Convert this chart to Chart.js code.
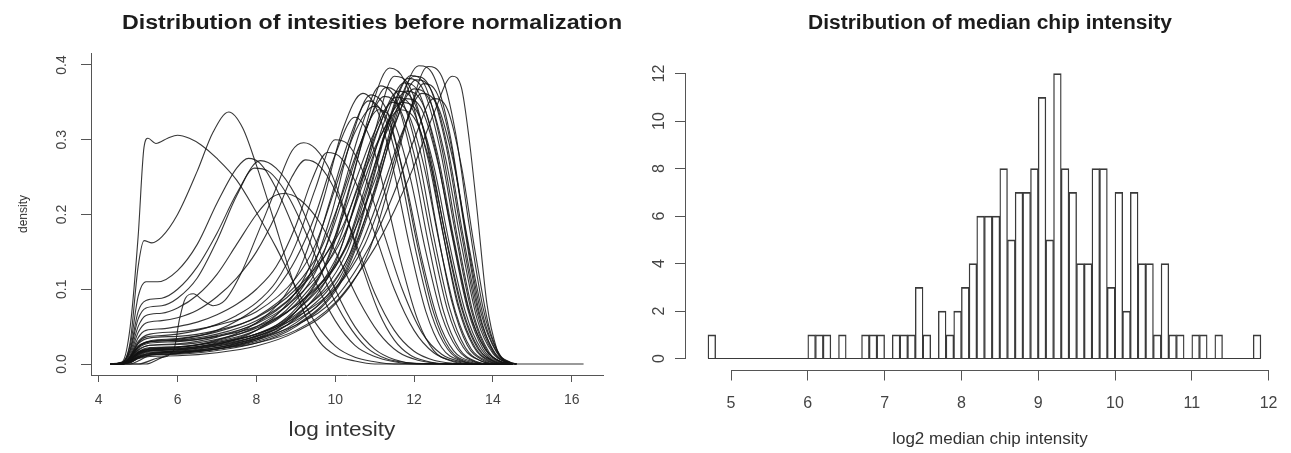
<!DOCTYPE html>
<html>
<head>
<meta charset="utf-8">
<script src="https://cdn.jsdelivr.net/npm/chart.js@4.4.1/dist/chart.umd.min.js"></script>
<style>
  html, body { margin: 0; padding: 0; background: #fff; }
  #wrap { position: relative; width: 1291px; height: 453px; overflow: hidden; font-family: "Liberation Sans", Arial, sans-serif; }
  canvas { position: absolute; top: 0; }
  #densityChart { left: 0; }
  #histChart { left: 640px; }
  .lbl { position: absolute; white-space: nowrap; line-height: 1; color: #333; }
</style>
</head>
<body>
<div id="wrap">
  <canvas id="densityChart" width="640" height="453"></canvas>
  <canvas id="histChart" width="651" height="453"></canvas>
  <div class="lbl" style="left:372px;top:21.6px;font-weight:bold;font-size:20px;color:#1c1c1c;transform:translate(-50%,-50%) scaleX(1.16)">Distribution of intesities before normalization</div>
  <div class="lbl" style="left:990px;top:21.6px;font-weight:bold;font-size:20px;color:#1c1c1c;transform:translate(-50%,-50%) scaleX(1.05)">Distribution of median chip intensity</div>
  <div class="lbl" style="left:23px;top:214px;font-size:12px;transform:translate(-50%,-50%) rotate(-90deg)">density</div>
  <div class="lbl" style="left:342px;top:429px;font-size:20px;transform:translate(-50%,-50%) scaleX(1.13)">log intesity</div>
  <div class="lbl" style="left:990px;top:438px;font-size:17px;transform:translate(-50%,-50%)">log2 median chip intensity</div>
</div>
<script>
// ---- left panel: density of log intensity per chip ----
const densityTicksX = [4, 6, 8, 10, 12, 14, 16];
const densityTicksY = [0, 0.1, 0.2, 0.3, 0.4];

// chips with an early mode (low intensity arrays)
const earlyChips = [
  [[4.3,0],[4.6,0.003],[4.8,0.05],[5.0,0.17],[5.15,0.29],[5.25,0.302],[5.45,0.295],[5.75,0.302],[6.0,0.306],[6.3,0.302],[6.6,0.293],[7.0,0.275],[7.5,0.246],[8.0,0.203],[8.5,0.156],[9.0,0.103],[9.5,0.055],[10.0,0.024],[10.5,0.009],[11.0,0.003],[11.5,0],[14.5,0]],
  [[4.3,0],[4.6,0.002],[4.8,0.03],[5.0,0.13],[5.15,0.165],[5.35,0.162],[5.6,0.17],[6.0,0.2],[6.5,0.258],[6.9,0.31],[7.3,0.337],[7.65,0.316],[8.0,0.266],[8.4,0.2],[8.8,0.132],[9.2,0.07],[9.6,0.03],[10.0,0.012],[10.5,0.004],[11.0,0],[14.5,0]],
  [[4.3,0],[4.6,0.002],[4.8,0.025],[5.0,0.09],[5.2,0.11],[5.5,0.11],[6.0,0.125],[6.5,0.16],[7.0,0.215],[7.5,0.262],[7.8,0.275],[8.1,0.268],[8.5,0.235],[9.0,0.175],[9.5,0.11],[10.0,0.058],[10.5,0.025],[11.0,0.01],[11.5,0.003],[12.0,0],[14.5,0]],
  [[4.3,0],[4.6,0.002],[4.8,0.02],[5.0,0.07],[5.2,0.085],[5.6,0.088],[6.0,0.1],[6.5,0.13],[7.0,0.175],[7.5,0.228],[8.1,0.272],[8.5,0.262],[9.0,0.225],[9.5,0.165],[10.0,0.1],[10.5,0.05],[11.0,0.02],[11.5,0.006],[12.0,0.001],[14.5,0]],
  [[4.3,0],[4.6,0.002],[4.8,0.018],[5.0,0.06],[5.2,0.075],[5.6,0.078],[6.0,0.088],[6.5,0.115],[7.0,0.165],[7.5,0.225],[7.95,0.262],[8.3,0.258],[8.8,0.225],[9.3,0.17],[9.8,0.105],[10.3,0.055],[10.8,0.022],[11.3,0.007],[11.8,0.002],[12.3,0],[14.5,0]],
  [[4.3,0],[4.6,0.001],[4.8,0.015],[5.0,0.05],[5.2,0.065],[5.6,0.068],[6.0,0.075],[6.5,0.092],[7.0,0.12],[7.5,0.16],[8.0,0.2],[8.4,0.223],[8.7,0.228],[9.1,0.22],[9.6,0.19],[10.1,0.14],[10.6,0.085],[11.1,0.042],[11.6,0.016],[12.1,0.005],[12.6,0.001],[13.0,0],[14.5,0]],
  [[4.3,0],[5.0,0],[5.5,0.008],[5.9,0.018],[6.05,0.06],[6.2,0.088],[6.4,0.094],[6.65,0.085],[6.9,0.078],[7.2,0.085],[7.6,0.12],[8.0,0.17],[8.5,0.235],[8.9,0.285],[9.2,0.296],[9.5,0.288],[9.9,0.255],[10.3,0.195],[10.7,0.128],[11.1,0.07],[11.5,0.032],[11.9,0.012],[12.3,0.004],[12.8,0],[14.5,0]],
  [[4.3,0],[4.6,0.001],[4.8,0.012],[5.0,0.042],[5.2,0.055],[5.6,0.058],[6.0,0.062],[6.5,0.072],[7.0,0.09],[7.5,0.115],[8.0,0.15],[8.5,0.2],[8.9,0.25],[9.25,0.273],[9.6,0.265],[10.0,0.232],[10.5,0.165],[11.0,0.095],[11.5,0.045],[12.0,0.017],[12.5,0.005],[13.0,0.001],[13.5,0],[14.5,0]],
  [[4.3,0],[4.6,0.001],[4.8,0.01],[5.0,0.035],[5.2,0.045],[5.6,0.047],[6.0,0.05],[6.5,0.056],[7.0,0.066],[7.5,0.08],[8.0,0.1],[8.5,0.13],[9.0,0.185],[9.4,0.245],[9.8,0.283],[10.1,0.278],[10.5,0.245],[11.0,0.175],[11.5,0.1],[12.0,0.045],[12.5,0.015],[13.0,0.004],[13.5,0],[14.5,0]],
  [[4.3,0],[4.6,0],[4.8,0.008],[5.0,0.028],[5.2,0.036],[5.6,0.038],[6.0,0.04],[6.5,0.045],[7.0,0.053],[7.5,0.065],[8.0,0.082],[8.5,0.11],[9.0,0.16],[9.5,0.235],[10.0,0.3],[10.3,0.295],[10.7,0.258],[11.2,0.18],[11.7,0.1],[12.2,0.042],[12.7,0.013],[13.2,0.003],[13.7,0],[14.5,0]]
];

// chips with the usual late mode (11-13)
const lateChips = [
  [[4.3,0],[4.6,0.001],[4.8,0.008],[5.0,0.022],[5.3,0.03],[6.0,0.033],[7.0,0.045],[8.0,0.075],[8.5,0.1],[9.0,0.14],[9.5,0.2],[10.0,0.28],[10.5,0.33],[10.9,0.3],[11.3,0.22],[11.7,0.13],[12.1,0.058],[12.5,0.018],[13.0,0.003],[13.5,0],[14.5,0]],
  [[4.3,0],[4.6,0],[4.8,0.005],[5.0,0.015],[5.3,0.02],[6.0,0.022],[7.0,0.032],[8.0,0.055],[8.7,0.09],[9.2,0.14],[9.7,0.22],[10.2,0.315],[10.7,0.362],[11.1,0.335],[11.5,0.255],[11.9,0.155],[12.3,0.07],[12.7,0.022],[13.2,0.004],[13.7,0],[14.5,0]],
  [[4.3,0],[4.8,0],[5.0,0.004],[5.3,0.012],[5.6,0.016],[6.0,0.018],[7.0,0.026],[8.0,0.045],[8.85,0.085],[9.35,0.13],[9.85,0.215],[10.35,0.3],[10.85,0.352],[11.25,0.33],[11.65,0.255],[12.05,0.15],[12.45,0.065],[12.85,0.02],[13.3,0.003],[13.8,0],[14.5,0]],
  [[4.3,0],[4.6,0.001],[4.8,0.01],[5.0,0.03],[5.3,0.04],[6.0,0.043],[7.0,0.052],[8.0,0.07],[9.0,0.115],[9.5,0.16],[10.0,0.235],[10.5,0.31],[11.0,0.345],[11.4,0.318],[11.8,0.24],[12.2,0.14],[12.6,0.06],[13.0,0.018],[13.5,0.003],[14.0,0],[14.5,0]],
  [[4.3,0],[4.6,0.001],[4.8,0.006],[5.0,0.014],[5.3,0.018],[6.0,0.02],[7.0,0.028],[8.0,0.045],[9.0,0.085],[9.65,0.14],[10.15,0.225],[10.65,0.315],[11.15,0.372],[11.55,0.352],[11.95,0.275],[12.35,0.165],[12.75,0.07],[13.15,0.02],[13.6,0.003],[14.0,0],[14.5,0]],
  [[4.3,0],[4.6,0.001],[4.8,0.007],[5.0,0.019],[5.3,0.025],[6.0,0.027],[7.0,0.036],[8.0,0.055],[9.0,0.095],[9.75,0.155],[10.25,0.23],[10.75,0.31],[11.25,0.358],[11.65,0.34],[12.05,0.27],[12.45,0.165],[12.85,0.072],[13.25,0.022],[13.7,0.004],[14.1,0],[14.5,0]],
  [[4.3,0],[4.8,0.002],[5.0,0.008],[5.3,0.012],[6.0,0.014],[7.0,0.02],[8.0,0.034],[9.0,0.07],[9.9,0.15],[10.4,0.24],[10.9,0.34],[11.38,0.396],[11.75,0.38],[12.15,0.31],[12.55,0.19],[12.95,0.085],[13.35,0.025],[13.75,0.005],[14.1,0],[14.5,0]],
  [[4.3,0],[4.6,0.001],[4.8,0.009],[5.0,0.023],[5.3,0.03],[6.0,0.032],[7.0,0.04],[8.0,0.058],[9.0,0.095],[9.95,0.165],[10.45,0.235],[10.95,0.305],[11.45,0.35],[11.85,0.335],[12.25,0.265],[12.65,0.16],[13.05,0.07],[13.45,0.02],[13.85,0.004],[14.2,0],[14.5,0]],
  [[4.3,0],[4.6,0],[4.8,0.005],[5.0,0.015],[5.3,0.02],[6.0,0.022],[7.0,0.03],[8.0,0.045],[9.0,0.08],[10.05,0.16],[10.55,0.235],[11.05,0.31],[11.55,0.357],[11.95,0.342],[12.35,0.275],[12.75,0.17],[13.15,0.075],[13.55,0.022],[13.95,0.004],[14.3,0],[14.5,0]],
  [[4.3,0],[5.2,0],[5.5,0.006],[5.8,0.013],[6.2,0.016],[7.0,0.022],[8.0,0.036],[9.0,0.07],[10.1,0.15],[10.6,0.23],[11.1,0.315],[11.6,0.365],[12.0,0.35],[12.4,0.28],[12.8,0.17],[13.2,0.075],[13.6,0.022],[14.0,0.004],[14.3,0],[14.5,0]],
  [[4.3,0],[4.6,0.001],[4.8,0.01],[5.0,0.027],[5.3,0.035],[6.0,0.037],[7.0,0.045],[8.0,0.062],[9.0,0.1],[10.15,0.18],[10.65,0.245],[11.15,0.305],[11.65,0.34],[12.05,0.325],[12.45,0.26],[12.85,0.16],[13.25,0.07],[13.65,0.02],[14.05,0.003],[14.4,0],[14.5,0]],
  [[4.3,0],[4.6,0],[4.8,0.005],[5.0,0.013],[5.3,0.018],[6.0,0.02],[7.0,0.027],[8.0,0.04],[9.0,0.07],[10.25,0.155],[10.75,0.235],[11.25,0.325],[11.75,0.376],[12.15,0.36],[12.55,0.285],[12.95,0.175],[13.35,0.075],[13.75,0.02],[14.15,0.003],[14.45,0]],
  [[4.3,0],[4.6,0.001],[4.8,0.007],[5.0,0.018],[5.3,0.025],[6.0,0.026],[7.0,0.033],[8.0,0.048],[9.0,0.078],[10.3,0.16],[10.8,0.235],[11.3,0.31],[11.8,0.355],[12.2,0.34],[12.6,0.27],[13.0,0.165],[13.4,0.07],[13.8,0.02],[14.2,0.003],[14.5,0]],
  [[4.3,0],[4.8,0.003],[5.0,0.009],[5.3,0.014],[6.0,0.016],[7.0,0.022],[8.0,0.034],[9.0,0.06],[10.35,0.145],[10.85,0.23],[11.35,0.325],[11.85,0.382],[12.25,0.365],[12.65,0.29],[13.05,0.175],[13.45,0.072],[13.85,0.018],[14.2,0.003],[14.5,0]],
  [[4.3,0],[4.6,0],[4.8,0.005],[5.0,0.015],[5.3,0.02],[6.0,0.021],[7.0,0.027],[8.0,0.04],[9.0,0.066],[10.4,0.15],[10.9,0.235],[11.4,0.33],[11.92,0.386],[12.3,0.37],[12.7,0.29],[13.1,0.17],[13.5,0.068],[13.9,0.016],[14.25,0.002],[14.5,0]],
  [[4.3,0],[4.6,0.001],[4.8,0.009],[5.0,0.023],[5.3,0.03],[6.0,0.031],[7.0,0.037],[8.0,0.05],[9.0,0.078],[10.0,0.13],[10.5,0.18],[11.0,0.245],[11.5,0.32],[12.0,0.368],[12.4,0.352],[12.8,0.275],[13.2,0.16],[13.6,0.06],[14.0,0.014],[14.35,0.002],[14.6,0]],
  [[4.3,0],[4.8,0.004],[5.0,0.011],[5.3,0.016],[6.0,0.017],[7.0,0.022],[8.0,0.032],[9.0,0.055],[10.05,0.11],[10.55,0.165],[11.05,0.24],[11.55,0.325],[12.05,0.38],[12.45,0.365],[12.85,0.29],[13.25,0.17],[13.65,0.065],[14.05,0.015],[14.4,0.002],[14.6,0]],
  [[4.3,0],[4.8,0.002],[5.0,0.008],[5.3,0.012],[6.0,0.013],[7.0,0.018],[8.0,0.028],[9.0,0.05],[10.1,0.105],[10.6,0.165],[11.1,0.245],[11.6,0.34],[12.12,0.399],[12.5,0.385],[12.9,0.31],[13.3,0.18],[13.7,0.068],[14.1,0.015],[14.45,0.002],[14.6,0]],
  [[4.3,0],[4.6,0],[4.8,0.006],[5.0,0.016],[5.3,0.022],[6.0,0.023],[7.0,0.029],[8.0,0.04],[9.0,0.062],[10.2,0.115],[10.7,0.165],[11.2,0.235],[11.7,0.31],[12.2,0.362],[12.6,0.345],[13.0,0.27],[13.4,0.155],[13.8,0.055],[14.15,0.012],[14.5,0]],
  [[4.3,0],[4.8,0.002],[5.0,0.007],[5.3,0.01],[6.0,0.011],[7.0,0.015],[8.0,0.024],[9.0,0.043],[10.0,0.08],[10.85,0.15],[11.35,0.235],[11.85,0.33],[12.35,0.398],[12.7,0.385],[13.05,0.31],[13.4,0.185],[13.75,0.075],[14.1,0.018],[14.45,0.002],[14.6,0]],
  [[4.3,0],[4.6,0],[4.8,0.005],[5.0,0.013],[5.3,0.018],[6.0,0.019],[7.0,0.024],[8.0,0.034],[9.0,0.052],[10.0,0.088],[11.0,0.17],[11.5,0.23],[12.0,0.3],[12.5,0.355],[12.85,0.34],[13.2,0.265],[13.55,0.15],[13.9,0.05],[14.2,0.01],[14.5,0]],
  [[4.3,0],[4.6,0],[4.8,0.004],[5.0,0.01],[5.3,0.014],[6.0,0.016],[7.0,0.02],[8.0,0.028],[9.0,0.045],[10.0,0.082],[11.0,0.155],[11.5,0.205],[12.0,0.265],[12.5,0.335],[12.97,0.385],[13.2,0.37],[13.4,0.3],[13.6,0.205],[13.85,0.08],[14.1,0.02],[14.3,0.003],[14.5,0],[16.3,0]],
  [[4.3,0],[4.6,0.001],[4.8,0.006],[5.0,0.016],[5.3,0.021],[6.0,0.023],[7.0,0.031],[8.0,0.05],[9.0,0.09],[9.4,0.125],[9.9,0.2],[10.4,0.3],[10.9,0.36],[11.3,0.34],[11.7,0.26],[12.1,0.155],[12.5,0.068],[12.9,0.02],[13.4,0.003],[13.9,0],[14.5,0]],
  [[4.3,0],[4.6,0.001],[4.8,0.009],[5.0,0.024],[5.3,0.031],[6.0,0.034],[7.0,0.043],[8.0,0.063],[9.0,0.105],[9.6,0.15],[10.1,0.215],[10.6,0.29],[11.1,0.34],[11.5,0.322],[11.9,0.25],[12.3,0.15],[12.7,0.065],[13.1,0.02],[13.55,0.003],[14.0,0],[14.5,0]],
  [[4.3,0],[4.8,0.003],[5.0,0.01],[5.3,0.015],[6.0,0.017],[7.0,0.024],[8.0,0.038],[9.0,0.074],[9.8,0.14],[10.3,0.225],[10.8,0.315],[11.3,0.37],[11.7,0.352],[12.1,0.28],[12.5,0.17],[12.9,0.075],[13.3,0.022],[13.7,0.004],[14.1,0],[14.5,0]],
  [[4.3,0],[4.8,0.002],[5.0,0.008],[5.3,0.012],[6.0,0.014],[7.0,0.02],[8.0,0.032],[9.0,0.062],[10.0,0.135],[10.5,0.215],[11.0,0.31],[11.5,0.385],[11.9,0.37],[12.3,0.3],[12.7,0.185],[13.1,0.08],[13.5,0.024],[13.9,0.004],[14.3,0],[14.5,0]],
  [[4.3,0],[4.6,0.001],[4.8,0.008],[5.0,0.021],[5.3,0.028],[6.0,0.03],[7.0,0.038],[8.0,0.054],[9.0,0.088],[10.2,0.17],[10.7,0.24],[11.2,0.31],[11.7,0.35],[12.1,0.335],[12.5,0.265],[12.9,0.16],[13.3,0.07],[13.7,0.02],[14.1,0.003],[14.5,0]],
  [[4.3,0],[4.8,0.004],[5.0,0.012],[5.3,0.017],[6.0,0.019],[7.0,0.025],[8.0,0.037],[9.0,0.064],[10.3,0.15],[10.8,0.23],[11.3,0.315],[11.8,0.365],[12.2,0.35],[12.6,0.28],[13.0,0.17],[13.4,0.072],[13.8,0.02],[14.2,0.003],[14.5,0]],
  [[4.3,0],[4.8,0.003],[5.0,0.009],[5.3,0.013],[6.0,0.015],[7.0,0.02],[8.0,0.03],[9.0,0.052],[10.0,0.1],[10.5,0.155],[11.0,0.235],[11.5,0.33],[12.0,0.385],[12.4,0.37],[12.8,0.295],[13.2,0.175],[13.6,0.068],[14.0,0.016],[14.35,0.002],[14.6,0]],
  [[4.3,0],[4.6,0],[4.8,0.005],[5.0,0.014],[5.3,0.019],[6.0,0.02],[7.0,0.026],[8.0,0.037],[9.0,0.058],[10.0,0.1],[10.75,0.16],[11.25,0.23],[11.75,0.315],[12.25,0.375],[12.6,0.36],[12.95,0.29],[13.3,0.175],[13.65,0.07],[14.0,0.018],[14.35,0.002],[14.6,0]]
];

// ---- right panel: histogram of median chip intensity ----
const binStart = 4.7;
const binWidth = 0.1;
const histCounts = [
  1,0,0,0,0,0,0,0,0,0,0,0,0,      // 4.7 - 5.9
  1,1,1,0,1,0,0,1,1,1,            // 6.0 - 6.9
  0,1,1,1,3,1,0,2,1,2,            // 7.0 - 7.9
  3,4,6,6,6,8,5,7,7,8,            // 8.0 - 8.9
  11,5,12,8,7,4,4,8,8,3,          // 9.0 - 9.9
  7,2,7,4,4,1,4,1,1,0,            // 10.0 - 10.9
  1,1,0,1,0,0,0,0,1               // 11.0 - 11.8
];
const histTicksX = [5, 6, 7, 8, 9, 10, 11, 12];
const histTicksY = [0, 2, 4, 6, 8, 10, 12];

const fontFam = '"Liberation Sans", Arial, sans-serif';
const axisCol = '#555';
const tickTextCol = '#444';

function toPts(c) { return c.map(p => ({ x: p[0], y: p[1] })); }

const curveSets = earlyChips.concat(lateChips).map(c => ({
  data: toPts(c),
  borderColor: 'rgba(20,20,20,0.85)',
  borderWidth: 1.1,
  pointRadius: 0,
  fill: false,
  cubicInterpolationMode: 'monotone'
}));

new Chart(document.getElementById('densityChart'), {
  type: 'line',
  data: { datasets: curveSets },
  options: {
    responsive: false,
    animation: false,
    events: [],
    layout: { padding: { top: 53, right: 37, left: 0, bottom: 0 } },
    plugins: { legend: { display: false }, tooltip: { enabled: false }, title: { display: false } },
    scales: {
      x: {
        type: 'linear', min: 3.805, max: 16.793,
        afterBuildTicks: s => { s.ticks = densityTicksX.map(v => ({ value: v })); },
        afterFit: s => { s.height = 78; },
        grid: { drawOnChartArea: false, drawTicks: true, tickLength: 7, color: axisCol },
        border: { display: true, color: axisCol, width: 1 },
        ticks: { font: { family: fontFam, size: 14 }, color: tickTextCol, padding: 9.5, maxRotation: 0, autoSkip: false }
      },
      y: {
        type: 'linear', min: -0.0147, max: 0.416,
        afterBuildTicks: s => { s.ticks = densityTicksY.map(v => ({ value: v })); },
        afterFit: s => { s.width = 91; },
        grid: { drawOnChartArea: false, drawTicks: true, tickLength: 10, color: axisCol },
        border: { display: true, color: axisCol, width: 1 },
        ticks: { font: { family: fontFam, size: 14 }, color: tickTextCol, padding: 9, minRotation: 90, crossAlign: 'center',
                 callback: v => v.toFixed(1) }
      }
    }
  }
});

const binCentres = histCounts.map((c, i) => Math.round((binStart + binWidth * (i + 0.5)) * 100) / 100);
const binEnd = Math.round((binStart + binWidth * histCounts.length) * 100) / 100;

new Chart(document.getElementById('histChart'), {
  type: 'bar',
  data: {
    datasets: [
      {
        type: 'bar',
        data: histCounts.map((c, i) => ({ x: binCentres[i], y: c })),
        backgroundColor: 'rgba(255,255,255,0)',
        borderColor: '#3a3a3a',
        borderWidth: { top: 1.2, left: 0.7, right: 0.7, bottom: 0 },
        borderSkipped: 'start',
        barPercentage: 1,
        categoryPercentage: 1,
        grouped: false,
        clip: false
      },
      {
        type: 'line',
        data: [{ x: binStart, y: 0 }, { x: binEnd, y: 0 }],
        borderColor: '#3a3a3a',
        borderWidth: 1.2,
        pointRadius: 0,
        clip: false
      }
    ]
  },
  options: {
    responsive: false,
    animation: false,
    events: [],
    layout: { padding: { top: 73.5, right: 8.7, left: 0, bottom: 0 } },
    plugins: { legend: { display: false }, tooltip: { enabled: false }, title: { display: false } },
    scales: {
      x: {
        type: 'linear', min: 5, max: 12, offset: false, weight: 1,
        afterBuildTicks: s => { s.ticks = histTicksX.map(v => ({ value: v })); },
        afterFit: s => { s.height = 82.5; },
        grid: { offset: false, drawOnChartArea: false, drawTicks: true, tickLength: 10, color: axisCol },
        border: { display: true, color: axisCol, width: 1 },
        ticks: { font: { family: fontFam, size: 16 }, color: tickTextCol, padding: 13.5, maxRotation: 0, autoSkip: false }
      },
      xGap: {
        type: 'linear', position: 'bottom', weight: 0, display: true,
        afterFit: s => { s.height = 12; },
        grid: { display: false }, border: { display: false }, ticks: { display: false }
      },
      y: {
        type: 'linear', min: 0, max: 12, weight: 1,
        afterBuildTicks: s => { s.ticks = histTicksY.map(v => ({ value: v })); },
        afterFit: s => { s.width = 45; },
        grid: { drawOnChartArea: false, drawTicks: true, tickLength: 10, color: axisCol },
        border: { display: true, color: axisCol, width: 1 },
        ticks: { font: { family: fontFam, size: 16 }, color: tickTextCol, padding: 7, minRotation: 90, crossAlign: 'center' }
      },
      yGap: {
        type: 'linear', position: 'left', weight: 0, display: true,
        afterFit: s => { s.width = 46; },
        grid: { display: false }, border: { display: false }, ticks: { display: false }
      }
    }
  }
});
</script>
</body>
</html>
